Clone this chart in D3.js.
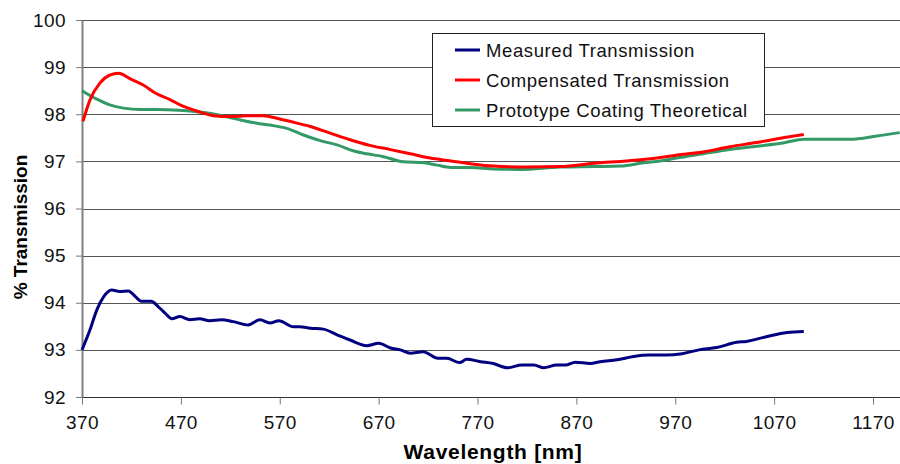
<!DOCTYPE html>
<html>
<head>
<meta charset="utf-8">
<script src="https://cdn.jsdelivr.net/npm/d3@7"></script>
<style>
  body { margin: 0; background: #fff; }
  text { font-family: "Liberation Sans", Arial, sans-serif; }
</style>
</head>
<body>
<div id="chart"></div>
<script>
// wavelength (nm) / % transmission
const measuredNm = [370,378,385,392,400,408,417,424,430,440,447,454,461,469,479,489,499,511,523,538,550,560,569,584,590,601,614,628,641,658,670,682,692,702,715,730,739,752,759,773,786,800,815,827,837,850,859,869,884,894,911,928,944,961,977,994,1012,1032,1042,1062,1083,1100];
const measuredT = [93.0,93.42,93.85,94.13,94.27,94.24,94.25,94.13,94.03,94.03,93.92,93.78,93.66,93.71,93.64,93.66,93.62,93.64,93.60,93.53,93.64,93.57,93.62,93.49,93.49,93.46,93.44,93.32,93.21,93.09,93.14,93.04,93.0,92.93,92.96,92.82,92.82,92.73,92.80,92.75,92.71,92.62,92.68,92.68,92.62,92.68,92.68,92.74,92.71,92.75,92.79,92.86,92.89,92.89,92.92,93.0,93.05,93.16,93.18,93.28,93.37,93.39];

const compNm = [371,378,388,398,407,418,432,445,459,472,486,503,520,537,553,570,580,601,621,641,661,682,702,722,743,763,786,820,854,888,921,955,971,998,1025,1052,1079,1100];
const compT = [97.85,98.3,98.66,98.83,98.87,98.76,98.62,98.44,98.31,98.17,98.07,97.97,97.95,97.97,97.97,97.9,97.85,97.74,97.60,97.46,97.34,97.25,97.16,97.07,97.01,96.95,96.9,96.88,96.89,96.96,97.01,97.08,97.13,97.20,97.31,97.40,97.50,97.57];

const protoNm = [370,385,398,412,429,445,462,479,496,513,530,547,560,577,594,611,628,645,658,675,695,716,729,743,763,786,813,854,888,915,938,955,971,998,1025,1052,1079,1100,1120,1147,1174,1197];
const protoT = [98.5,98.32,98.2,98.13,98.10,98.10,98.09,98.07,98.03,97.96,97.88,97.81,97.77,97.70,97.56,97.44,97.35,97.22,97.16,97.10,96.99,96.97,96.92,96.87,96.87,96.84,96.83,96.88,96.89,96.90,96.97,97.01,97.07,97.16,97.25,97.32,97.39,97.47,97.47,97.47,97.54,97.61];

const seriesNames = ["Measured Transmission", "Compensated Transmission", "Prototype Coating Theoretical"];
const seriesColors = ["#000080", "#ff0000", "#339966"];
const yTicks = [92,93,94,95,96,97,98,99,100];
const xTicks = [370,470,570,670,770,870,970,1070,1170];

const W = 900, H = 464;
const plotLeft = 82, plotTop = 20, plotBottom = 397;

const svg = d3.select("#chart").append("svg")
  .attr("width", W).attr("height", H);

const x = d3.scaleLinear().domain([370, 1200]).range([plotLeft, plotLeft + 830 * 0.98875]);
const y = d3.scaleLinear().domain([92, 100]).range([plotBottom, plotTop]);

// gridlines
svg.append("g").selectAll("line")
  .data(yTicks.filter(d => d > 92))
  .enter().append("line")
  .attr("x1", plotLeft).attr("x2", W)
  .attr("y1", d => Math.round(y(d)) + 0.5)
  .attr("y2", d => Math.round(y(d)) + 0.5)
  .attr("stroke", "#555").attr("stroke-width", 1);

// x axis
const xAxis = svg.append("g")
  .attr("transform", `translate(0,${Math.round(plotBottom) + 0.5})`)
  .call(d3.axisBottom(x).tickValues(xTicks).tickFormat(d3.format("d"))
    .tickSize(7).tickPadding(11).tickSizeOuter(0));
xAxis.select(".domain").attr("stroke", "#333").attr("d", `M${plotLeft},0H${W}`);
xAxis.selectAll(".tick line").attr("stroke", "#777");
xAxis.selectAll("text").attr("font-size", 19).attr("letter-spacing", 0.4).attr("fill", "#111")
  .attr("font-family", "Liberation Sans, Arial, sans-serif");

// y axis
const yAxis = svg.append("g")
  .attr("transform", `translate(${plotLeft},0)`)
  .call(d3.axisLeft(y).tickValues(yTicks).tickSize(6).tickPadding(10).tickSizeOuter(0));
yAxis.select(".domain").attr("stroke", "#808080").attr("stroke-width", 2);
yAxis.selectAll(".tick line").attr("stroke", "#777");
yAxis.selectAll("text").attr("font-size", 19).attr("letter-spacing", 0.4).attr("fill", "#111")
  .attr("font-family", "Liberation Sans, Arial, sans-serif");

// series
const series = [
  measuredNm.map((d, i) => [d, measuredT[i]]),
  compNm.map((d, i) => [d, compT[i]]),
  protoNm.map((d, i) => [d, protoT[i]])
];
const line = d3.line().x(d => x(d[0])).y(d => y(d[1])).curve(d3.curveMonotoneX);

svg.append("g").selectAll("path")
  .data([series[2], series[1], series[0]])
  .enter().append("path")
  .attr("d", line)
  .attr("fill", "none")
  .attr("stroke", (d, i) => [seriesColors[2], seriesColors[1], seriesColors[0]][i])
  .attr("stroke-width", 3)
  .attr("stroke-linejoin", "round");

// axis titles
svg.append("text")
  .attr("x", 493).attr("y", 459)
  .attr("text-anchor", "middle")
  .attr("font-size", 21).attr("font-weight", "bold").attr("letter-spacing", 0.7)
  .text("Wavelength [nm]");

svg.append("text")
  .attr("transform", "translate(27,227) rotate(-90)")
  .attr("text-anchor", "middle")
  .attr("font-size", 19).attr("font-weight", "bold")
  .text("% Transmission");

// legend
const legend = svg.append("g");
legend.append("rect")
  .attr("x", 432.5).attr("y", 33.5).attr("width", 332).attr("height", 93)
  .attr("fill", "#fff").attr("stroke", "#222");
seriesNames.forEach((name, i) => {
  const ly = 50 + i * 30;
  legend.append("line")
    .attr("x1", 455).attr("x2", 480).attr("y1", ly).attr("y2", ly)
    .attr("stroke", seriesColors[i]).attr("stroke-width", 3);
  legend.append("text")
    .attr("x", 486).attr("y", ly + 7)
    .attr("font-size", 18.5).attr("letter-spacing", 0.6).attr("fill", "#111")
    .text(name);
});
</script>
</body>
</html>
